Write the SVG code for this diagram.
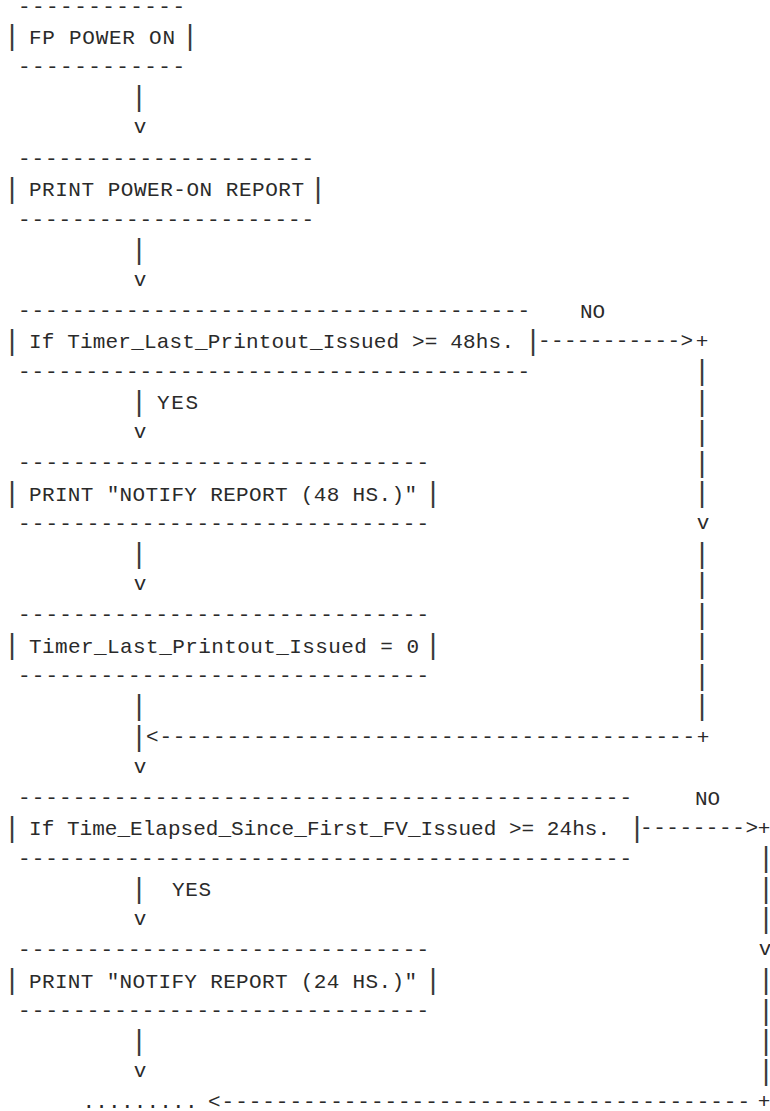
<svg xmlns="http://www.w3.org/2000/svg" width="770" height="1111" viewBox="0 0 770 1111">
<style>
text{fill:#2a2a2a}
.t{font-family:"Liberation Mono",monospace;font-size:21px}
.d{font-family:"Liberation Mono",monospace;font-size:21px}
.p{font-family:"DejaVu Sans",sans-serif;font-size:27px;text-anchor:middle;fill:#3a3a3a}
.v{font-family:"Liberation Mono",monospace;font-size:21px;text-anchor:middle}
</style>
<rect width="770" height="1111" fill="#fff"/>
<g id="node-fp-power-on">
<text class="d" x="18" y="12.5" textLength="167" lengthAdjust="spacing">------------</text>
<text class="p" x="12" y="44.4">|</text>
<text class="t" x="29" y="43.9" textLength="146" lengthAdjust="spacing">FP POWER ON</text>
<text class="p" x="190" y="44.4">|</text>
<text class="d" x="18" y="73.4" textLength="167" lengthAdjust="spacing">------------</text>
</g>
<g id="node-print-power-on-report">
<text class="d" x="18" y="164.7" textLength="296" lengthAdjust="spacing">----------------------</text>
<text class="p" x="12" y="196.6">|</text>
<text class="t" x="29" y="196.1" textLength="275" lengthAdjust="spacing">PRINT POWER-ON REPORT</text>
<text class="p" x="318" y="196.6">|</text>
<text class="d" x="18" y="225.6" textLength="296" lengthAdjust="spacing">----------------------</text>
</g>
<g id="node-if-48hs">
<text class="d" x="18" y="316.9" textLength="512" lengthAdjust="spacing">--------------------------------------</text>
<text class="p" x="12" y="348.8">|</text>
<text class="t" x="29" y="348.3" textLength="485" lengthAdjust="spacing">If Timer_Last_Printout_Issued &gt;= 48hs.</text>
<text class="p" x="533" y="348.8">|</text>
<text class="d" x="18" y="377.8" textLength="512" lengthAdjust="spacing">--------------------------------------</text>
</g>
<g id="node-notify-48">
<text class="d" x="18" y="469.1" textLength="411" lengthAdjust="spacing">------------------------------</text>
<text class="p" x="12" y="501">|</text>
<text class="t" x="29" y="500.5" textLength="388" lengthAdjust="spacing">PRINT ″NOTIFY REPORT (48 HS.)″</text>
<text class="p" x="433" y="501">|</text>
<text class="d" x="18" y="530" textLength="411" lengthAdjust="spacing">------------------------------</text>
</g>
<g id="node-timer-reset">
<text class="d" x="18" y="621.3" textLength="411" lengthAdjust="spacing">------------------------------</text>
<text class="p" x="12" y="653.2">|</text>
<text class="t" x="29" y="652.7" textLength="390" lengthAdjust="spacing">Timer_Last_Printout_Issued = 0</text>
<text class="p" x="433" y="653.2">|</text>
<text class="d" x="18" y="682.2" textLength="411" lengthAdjust="spacing">------------------------------</text>
</g>
<g id="node-if-24hs">
<text class="d" x="18" y="803.9" textLength="614" lengthAdjust="spacing">---------------------------------------------</text>
<text class="p" x="12" y="835.9">|</text>
<text class="t" x="29" y="835.4" textLength="581" lengthAdjust="spacing">If Time_Elapsed_Since_First_FV_Issued &gt;= 24hs.</text>
<text class="p" x="637" y="835.9">|</text>
<text class="d" x="18" y="864.8" textLength="614" lengthAdjust="spacing">---------------------------------------------</text>
</g>
<g id="node-notify-24">
<text class="d" x="18" y="956.1" textLength="411" lengthAdjust="spacing">------------------------------</text>
<text class="p" x="12" y="988.1">|</text>
<text class="t" x="29" y="987.6" textLength="388" lengthAdjust="spacing">PRINT ″NOTIFY REPORT (24 HS.)″</text>
<text class="p" x="433" y="988.1">|</text>
<text class="d" x="18" y="1017" textLength="411" lengthAdjust="spacing">------------------------------</text>
</g>
<g id="node-continue">
<text class="t" x="82.5" y="1107.5" textLength="115" lengthAdjust="spacing">.........</text>
</g>
<g id="connectors">
<text class="p" x="139" y="105.3">|</text>
<text class="v" x="140" y="133.3">v</text>
<text class="p" x="139" y="257.5">|</text>
<text class="v" x="140" y="285.5">v</text>
<text class="p" x="139" y="409.7">|</text>
<text class="t" x="157" y="409.2" textLength="41" lengthAdjust="spacing">YES</text>
<text class="v" x="140" y="437.7">v</text>
<text class="p" x="139" y="561.9">|</text>
<text class="v" x="140" y="589.9">v</text>
<text class="p" x="139" y="714.1">|</text>
<text class="p" x="139" y="744.6">|</text>
<text class="d" x="146" y="743.1" textLength="549" lengthAdjust="spacing">&lt;----------------------------------------</text>
<text class="v" x="703" y="743.6">+</text>
<text class="v" x="140" y="772.5">v</text>
<text class="t" x="580" y="317.9">NO</text>
<text class="d" x="538" y="347.3" textLength="155" lengthAdjust="spacing">-----------&gt;</text>
<text class="v" x="702" y="347.8">+</text>
<text class="p" x="702" y="379.3">|</text>
<text class="p" x="702" y="409.7">|</text>
<text class="p" x="702" y="440.2">|</text>
<text class="p" x="702" y="470.6">|</text>
<text class="p" x="702" y="501">|</text>
<text class="v" x="703" y="529">v</text>
<text class="p" x="702" y="561.9">|</text>
<text class="p" x="702" y="592.4">|</text>
<text class="p" x="702" y="622.8">|</text>
<text class="p" x="702" y="653.2">|</text>
<text class="p" x="702" y="683.7">|</text>
<text class="p" x="702" y="714.1">|</text>
<text class="p" x="139" y="896.8">|</text>
<text class="t" x="172" y="896.3" textLength="39" lengthAdjust="spacing">YES</text>
<text class="v" x="140" y="924.7">v</text>
<text class="p" x="139" y="1049">|</text>
<text class="v" x="140" y="1076.9">v</text>
<text class="t" x="695" y="804.9">NO</text>
<text class="d" x="640" y="834.4" textLength="118" lengthAdjust="spacing">--------&gt;</text>
<text class="v" x="764" y="834.9">+</text>
<text class="p" x="766" y="866.3">|</text>
<text class="p" x="766" y="896.8">|</text>
<text class="p" x="766" y="927.2">|</text>
<text class="v" x="765" y="955.1">v</text>
<text class="p" x="766" y="988.1">|</text>
<text class="p" x="766" y="1018.5">|</text>
<text class="p" x="766" y="1049">|</text>
<text class="p" x="766" y="1079.4">|</text>
<text class="d" x="208" y="1107.5" textLength="542" lengthAdjust="spacing">&lt;---------------------------------------</text>
<text class="v" x="764" y="1108">+</text>
</g>
</svg>
